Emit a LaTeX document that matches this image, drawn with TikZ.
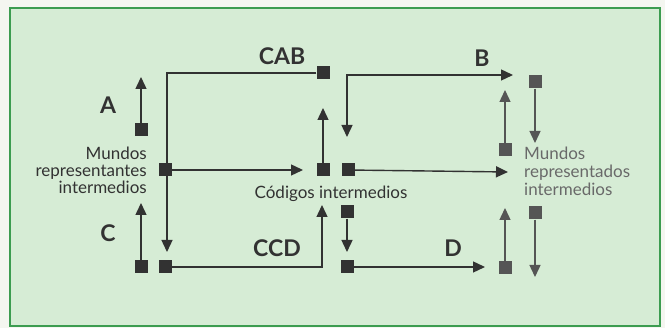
\documentclass[tikz,border=0pt]{standalone}
\usepackage{fontspec}
\setmainfont{Lato}
\usetikzlibrary{arrows.meta}
\definecolor{bgout}{RGB}{244,246,240}
\definecolor{bgin}{RGB}{214,236,213}
\definecolor{frame}{RGB}{60,156,80}
\definecolor{ink}{RGB}{50,50,50}
\definecolor{inkl}{RGB}{85,85,85}
\definecolor{txtl}{RGB}{105,105,105}
\tikzset{
  sq/.style={fill=ink, draw=none, minimum size=13pt, inner sep=0pt},
  sql/.style={sq, fill=inkl},
  conn/.style={draw=ink, line width=1.4pt, -{Triangle[length=12pt,width=11pt]}},
  connl/.style={conn, draw=inkl},
  lbl/.style={font=\bfseries\fontsize{23}{25}\selectfont, text=ink, inner sep=0pt},
  txt/.style={font=\fontsize{17}{17}\selectfont, text=ink, inner sep=0pt},
}
\begin{document}
\begin{tikzpicture}[x=1pt,y=-1pt]
\useasboundingbox (0,0) rectangle (665,328);
\fill[bgout] (0,0) rectangle (665,328);
\draw[fill=bgin, draw=frame, line width=2pt] (10,8) rectangle (660,326);

% squares
\node[sq] (sA) at (141,130) {};
\node[sq] (sC) at (141,267) {};
\node[sq] (sM) at (165,170) {};
\node[sq] (sCCD) at (165,267) {};
\node[sq] (sCAB) at (323,73) {};
\node[sq] (sCI1) at (323,170) {};
\node[sq] (sCI2) at (348,170) {};
\node[sq] (sCD1) at (347,212) {};
\node[sq] (sCD2) at (347,267) {};
\node[sql] (sRB1) at (535,82) {};
\node[sql] (sRB2) at (505,150) {};
\node[sql] (sRD1) at (535,213) {};
\node[sql] (sRD2) at (505,268) {};

% free ends
\coordinate (tA) at (141,77);
\coordinate (tC) at (141,203);
\coordinate (cab1) at (167,73);
\coordinate (tCAB) at (167,252);
\coordinate (tM) at (303,170);
\coordinate (tCI1) at (323,108);
\coordinate (tB0) at (347,137);
\coordinate (b1) at (347,75);
\coordinate (tB) at (513,75);
\coordinate (tCI2) at (508,172);
\coordinate (tRB1) at (535,143);
\coordinate (tRB2) at (505,90);
\coordinate (ccd1) at (322,267);
\coordinate (tCCD) at (322,205);
\coordinate (tCD1) at (347,252);
\coordinate (tCD2) at (485,267);
\coordinate (tRD2) at (505,208);
\coordinate (tRD1) at (535,277);

% connectors
\draw[conn] (sA) -- (tA);
\draw[conn] (sC) -- (tC);
\draw[conn] (sCAB.west) -- (cab1) -- (tCAB);
\draw[conn] (sM) -- (tM);
\draw[conn] (sCI1) -- (tCI1);
\draw[conn,{Triangle[length=12pt,width=11pt]}-{Triangle[length=12pt,width=11pt]}] (tB0) -- (b1) -- (tB);
\draw[conn] (sCI2) -- (tCI2);
\draw[connl] (sRB1) -- (tRB1);
\draw[connl] (sRB2) -- (tRB2);
\draw[conn] (sCCD.east) -- (ccd1) -- (tCCD);
\draw[conn] (sCD1) -- (tCD1);
\draw[conn] (sCD2) -- (tCD2);
\draw[connl] (sRD2) -- (tRD2);
\draw[connl] (sRD1) -- (tRD1);
\node[sq] at (sM) {};

% labels
\node[lbl] (lCAB) at (282,56) {CAB};
\node[lbl] (lB) at (482,58) {B};
\node[lbl] (lA) at (108,105) {A};
\node[lbl] (lC) at (108,233) {C};
\node[lbl] (lCCD) at (277,248) {CCD};
\node[lbl] (lD) at (453,248) {D};

\node[txt, align=right, anchor=east] (tMundos) at (147,170) {Mundos\\representantes\\intermedios};
\node[txt] (tCod) at (331,194) {Códigos intermedios};
\node[txt, text=txtl, align=left, anchor=west, font=\fontsize{17}{18}\selectfont] (tRep) at (524,171) {Mundos\\representados\\intermedios};
\end{tikzpicture}
\end{document}
